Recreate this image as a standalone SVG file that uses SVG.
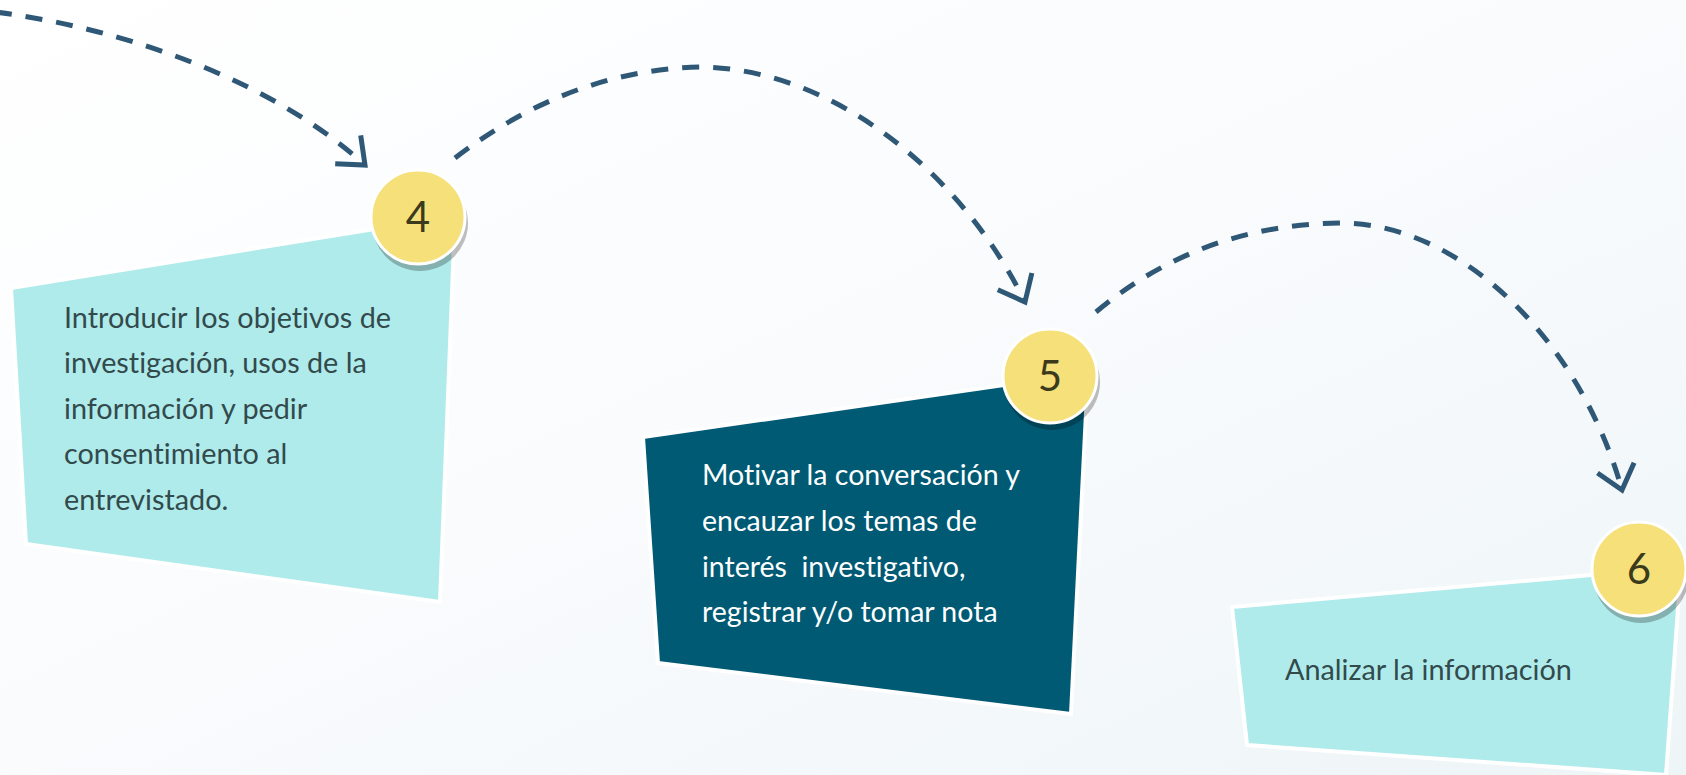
<svg xmlns="http://www.w3.org/2000/svg" width="1686" height="775" viewBox="0 0 1686 775">
  <defs>
    <linearGradient id="bg" x1="0" y1="0" x2="1" y2="1">
      <stop offset="0" stop-color="#ffffff"/>
      <stop offset="0.5" stop-color="#f9fbfd"/>
      <stop offset="1" stop-color="#eef5f7"/>
    </linearGradient>
    <marker id="chev" markerUnits="userSpaceOnUse" markerWidth="70" markerHeight="70" viewBox="-35 -35 70 70" refX="0" refY="0" orient="auto" overflow="visible">
      <path d="M -23,-19 L 0,0 L -23,19" fill="none" stroke="#2f5877" stroke-width="5" stroke-linejoin="miter"/>
    </marker>
    <style>
      .conn { fill: none; stroke: #2f5877; stroke-width: 5; stroke-dasharray: 17 14; marker-end: url(#chev); }
      .box-light { fill: #b0ebeb; stroke: #ffffff; stroke-width: 4; stroke-linejoin: miter; }
      .box-dark { fill: #005a74; stroke: #ffffff; stroke-width: 4; stroke-linejoin: miter; }
      .shadow { fill: #000000; fill-opacity: 0.25; }
      .badge { fill: #f5e07a; stroke: #ffffff; stroke-width: 3; }
      .num { font-family: Lato, "Liberation Sans", sans-serif; font-size: 42px; fill: #3b3a1c; text-anchor: middle; }
      .txt { font-family: Lato, "Liberation Sans", sans-serif; font-size: 28.8px; fill: #324a4c; font-variant-ligatures: none; }
      .txt-w { font-family: Lato, "Liberation Sans", sans-serif; font-size: 28.5px; fill: #ffffff; font-variant-ligatures: none; }
    </style>
  </defs>
  <rect x="0" y="0" width="1686" height="775" fill="url(#bg)"/>

  <g id="connectors">
    <path class="conn" d="M -5,12 C 100,25 260,70 365,165"/>
    <path class="conn" d="M 455,158 Q 570,70 700,67 C 830,68 960,170 1025,302"/>
    <path class="conn" d="M 1096,312 Q 1200,225 1339,223 C 1460,222 1580,340 1622,490"/>
  </g>

  <g id="node4">
    <polygon class="box-light" points="11,288 455,216 440,602 26,544"/>
    <text class="txt" x="64" y="328">Introducir los objetivos de</text>
    <text class="txt" x="64" y="373">investigación, usos de la</text>
    <text class="txt" x="64" y="419">información y pedir</text>
    <text class="txt" x="64" y="464">consentimiento al</text>
    <text class="txt" x="64" y="510">entrevistado.</text>
    <circle class="shadow" cx="420" cy="223" r="48"/>
    <circle class="badge" cx="418" cy="217" r="47"/>
    <text class="num" x="418" y="232">4</text>
  </g>

  <g id="node5">
    <polygon class="box-dark" points="643,437 1088,373 1071,714 658,663"/>
    <text class="txt-w" x="702" y="485">Motivar la conversación y</text>
    <text class="txt-w" x="702" y="531">encauzar los temas de</text>
    <text class="txt-w" x="702" y="577" xml:space="preserve">interés  investigativo,</text>
    <text class="txt-w" x="702" y="622">registrar y/o tomar nota</text>
    <circle class="shadow" cx="1052" cy="382" r="48"/>
    <circle class="badge" cx="1050" cy="376" r="47"/>
    <text class="num" x="1050" y="391">5</text>
  </g>

  <g id="node6">
    <polygon class="box-light" points="1232,607 1681,567 1666,775 1247,745"/>
    <text class="txt" x="1285" y="680">Analizar la información</text>
    <circle class="shadow" cx="1641" cy="575" r="48"/>
    <circle class="badge" cx="1639" cy="569" r="47"/>
    <text class="num" x="1639" y="584">6</text>
  </g>
</svg>
